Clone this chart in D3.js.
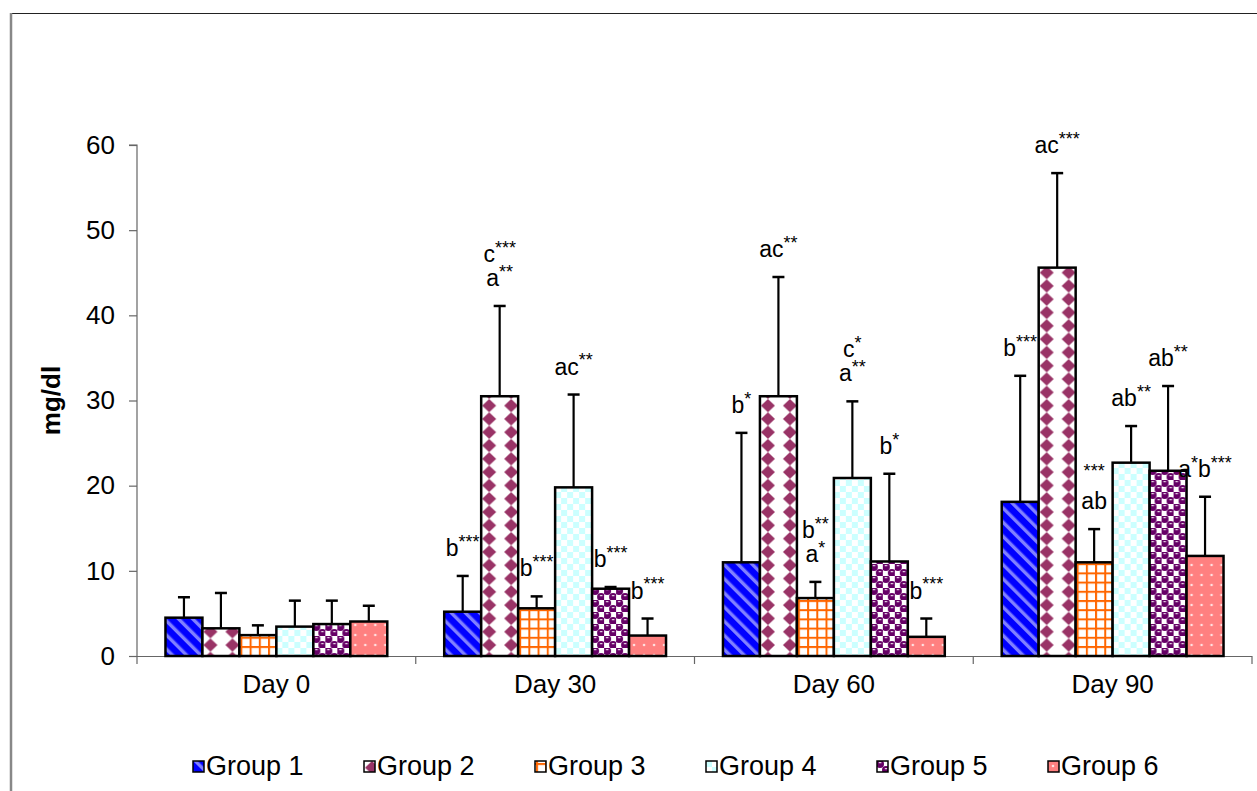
<!DOCTYPE html>
<html>
<head>
<meta charset="utf-8">
<style>
  body { margin: 0; background: #fff; }
  text { font-family: "Liberation Sans", Arial, sans-serif; fill: #000; }
</style>
</head>
<body>
<div id="chart"></div>
<script src="https://d3js.org/d3.v7.min.js"></script>
<script>
// days on the x axis, one bar per group in each day
var days = ["Day 0", "Day 30", "Day 60", "Day 90"];
var groups = ["Group 1", "Group 2", "Group 3", "Group 4", "Group 5", "Group 6"];

// mean values (mg/dl), one array per group, ordered as days
var g1Mean = [4.5, 5.2, 11.0, 18.1];
var g2Mean = [3.25, 30.5, 30.5, 45.6];
var g3Mean = [2.45, 5.6, 6.8, 11.0];
var g4Mean = [3.45, 19.8, 20.9, 22.7];
var g5Mean = [3.75, 7.9, 11.1, 21.75];
var g6Mean = [4.05, 2.4, 2.25, 11.75];

// upper error (SD)
var g1Err = [2.4, 4.2, 15.2, 14.8];
var g2Err = [4.15, 10.6, 14.0, 11.1];
var g3Err = [1.15, 1.4, 1.9, 3.9];
var g4Err = [3.05, 10.9, 9.0, 4.3];
var g5Err = [2.75, 0.2, 10.3, 9.95];
var g6Err = [1.85, 2.0, 2.15, 6.95];

// significance marks, "|" splits lines, asterisks are superscript
var g1Sig = ["", "b***", "b*", "b***"];
var g2Sig = ["", "c***|a**", "ac**", "ac***"];
var g3Sig = ["", "b***", "b**|a*", "***|ab"];
var g4Sig = ["", "ac**", "c*|a**", "ab**"];
var g5Sig = ["", "b***", "b*", "ab**"];
var g6Sig = ["", "b***", "b***", "a*b***"];

var yTicks = [0, 10, 20, 30, 40, 50, 60];

var means = [g1Mean, g2Mean, g3Mean, g4Mean, g5Mean, g6Mean];
var errs = [g1Err, g2Err, g3Err, g4Err, g5Err, g6Err];
var sigs = [g1Sig, g2Sig, g3Sig, g4Sig, g5Sig, g6Sig];

var W = 1257, H = 791;
var plotL = 137, plotR = 1252, plotT = 145, plotB = 656;

var svg = d3.select("#chart").append("svg").attr("width", W).attr("height", H);
svg.append("rect").attr("width", W).attr("height", H).attr("fill", "#fff");

// outer frame (runs off right/bottom)
svg.append("line").attr("x1", 11).attr("x2", W).attr("y1", 13.5).attr("y2", 13.5)
  .attr("stroke", "#222").attr("stroke-width", 1);
svg.append("line").attr("x1", 11).attr("x2", 11).attr("y1", 13).attr("y2", H)
  .attr("stroke", "#888").attr("stroke-width", 2.5);

// fill patterns
var defs = svg.append("defs");
var p;
// group 1: blue with light diagonal stripes
p = defs.append("pattern").attr("id", "pat0").attr("patternUnits", "userSpaceOnUse")
  .attr("width", 10).attr("height", 10).attr("patternTransform", "rotate(-45)");
p.append("rect").attr("width", 10).attr("height", 10).attr("fill", "#0000ff");
p.append("rect").attr("width", 3.4).attr("height", 10).attr("fill", "#8080ff");
// group 2: maroon diamonds on white
p = defs.append("pattern").attr("id", "pat1").attr("patternUnits", "userSpaceOnUse")
  .attr("width", 22).attr("height", 13.3).attr("x", -3);
p.append("rect").attr("width", 22).attr("height", 13.3).attr("fill", "#fff");
p.append("path").attr("d", "M11,0 L18,6.65 L11,13.3 L4,6.65 Z").attr("fill", "#993366");
// group 3: orange grid on white
p = defs.append("pattern").attr("id", "pat2").attr("patternUnits", "userSpaceOnUse")
  .attr("width", 9.2).attr("height", 9.2).attr("x", 1).attr("y", 2);
p.append("rect").attr("width", 9.2).attr("height", 9.2).attr("fill", "#fff");
p.append("rect").attr("width", 2).attr("height", 9.2).attr("fill", "#ff6600");
p.append("rect").attr("width", 9.2).attr("height", 2).attr("fill", "#ff6600");
// group 4: light cyan checker
p = defs.append("pattern").attr("id", "pat3").attr("patternUnits", "userSpaceOnUse")
  .attr("width", 12).attr("height", 12);
p.append("rect").attr("width", 12).attr("height", 12).attr("fill", "#fff");
p.append("rect").attr("width", 6).attr("height", 6).attr("fill", "#ccffff");
p.append("rect").attr("x", 6).attr("y", 6).attr("width", 6).attr("height", 6).attr("fill", "#ccffff");
// group 5: purple spheres
p = defs.append("pattern").attr("id", "pat4").attr("patternUnits", "userSpaceOnUse")
  .attr("width", 12).attr("height", 12);
p.append("rect").attr("width", 12).attr("height", 12).attr("fill", "#fff");
p.append("circle").attr("cx", 3).attr("cy", 3).attr("r", 4).attr("fill", "#660066");
p.append("circle").attr("cx", 9).attr("cy", 9).attr("r", 4).attr("fill", "#660066");
p.append("rect").attr("x", 1.8).attr("y", 1.2).attr("width", 2.6).attr("height", 1).attr("fill", "#fff");
p.append("rect").attr("x", 7.8).attr("y", 7.2).attr("width", 2.6).attr("height", 1).attr("fill", "#fff");
// group 6: salmon with white dots
p = defs.append("pattern").attr("id", "pat5").attr("patternUnits", "userSpaceOnUse")
  .attr("width", 10).attr("height", 10);
p.append("rect").attr("width", 10).attr("height", 10).attr("fill", "#ff8080");
p.append("circle").attr("cx", 5).attr("cy", 5).attr("r", 1.3).attr("fill", "#ffe0e0");

var x0 = d3.scaleBand().domain(days).range([plotL, plotR]).paddingInner(0).paddingOuter(0);
var x1 = d3.scaleBand().domain(groups).range([0, x0.bandwidth()]).paddingOuter(0.77).paddingInner(0);
var y = d3.scaleLinear().domain([0, 60]).range([plotB, plotT]);

// y axis
var yAxis = svg.append("g").attr("transform", "translate(" + plotL + ",0)")
  .call(d3.axisLeft(y).tickValues(yTicks).tickSize(8).tickPadding(14));
yAxis.select(".domain").attr("stroke", "#666").attr("stroke-width", 1.2).attr("d", "M-8," + y(60) + "H0V" + (plotB + 8));
yAxis.selectAll(".tick line").attr("stroke", "#666").attr("stroke-width", 1.2);
yAxis.selectAll(".tick text").attr("font-size", 26).attr("font-family", "Liberation Sans, Arial, sans-serif");

// x axis: ticks on category boundaries
var xAxis = svg.append("g");
xAxis.append("line").attr("x1", plotL).attr("x2", plotR).attr("y1", plotB + 0.5).attr("y2", plotB + 0.5)
  .attr("stroke", "#666").attr("stroke-width", 1.2);
xAxis.selectAll(".bt").data(days).enter().append("line")
  .attr("x1", function(d) { return x0(d) + x0.bandwidth(); })
  .attr("x2", function(d) { return x0(d) + x0.bandwidth(); })
  .attr("y1", plotB).attr("y2", plotB + 8)
  .attr("stroke", "#666").attr("stroke-width", 1.2);
xAxis.selectAll(".cl").data(days).enter().append("text")
  .attr("x", function(d) { return x0(d) + x0.bandwidth() / 2; })
  .attr("y", plotB + 37)
  .attr("text-anchor", "middle").attr("font-size", 26)
  .text(function(d) { return d; });

svg.append("text")
  .attr("transform", "translate(60," + ((plotT + plotB) / 2) + ") rotate(-90)")
  .attr("text-anchor", "middle").attr("font-size", 26).attr("font-weight", "bold")
  .text("mg/dl");

// bars
var rows = [];
days.forEach(function(day, di) {
  groups.forEach(function(gr, gi) {
    rows.push({ day: day, gi: gi, group: gr, mean: means[gi][di], err: errs[gi][di], sig: sigs[gi][di] });
  });
});

var bw = x1.bandwidth();
var bar = svg.selectAll(".bar").data(rows).enter().append("g")
  .attr("class", "bar")
  .attr("transform", function(d) { return "translate(" + (x0(d.day) + x1(d.group)) + ",0)"; });

bar.append("line")
  .attr("x1", bw / 2).attr("x2", bw / 2)
  .attr("y1", function(d) { return y(d.mean); })
  .attr("y2", function(d) { return y(d.mean + d.err); })
  .attr("stroke", "#000").attr("stroke-width", 2.2);
bar.append("line")
  .attr("x1", bw / 2 - 6).attr("x2", bw / 2 + 6)
  .attr("y1", function(d) { return y(d.mean + d.err); })
  .attr("y2", function(d) { return y(d.mean + d.err); })
  .attr("stroke", "#000").attr("stroke-width", 2.5);

bar.append("rect")
  .attr("x", 0).attr("width", bw)
  .attr("y", function(d) { return y(d.mean); })
  .attr("height", function(d) { return y(0) - y(d.mean); })
  .attr("fill", function(d) { return "url(#pat" + d.gi + ")"; })
  .attr("stroke", "#000").attr("stroke-width", 2.5);

// significance labels
var starSize = 18;
function writeMarks(sel, str) {
  var parts = str.match(/\*+|[^*]+/g) || [];
  var raised = false;
  parts.forEach(function(s) {
    var isStar = s.charAt(0) === "*";
    var t = sel.append("tspan").text(s);
    if (isStar) {
      t.attr("font-size", starSize);
      if (!raised) { t.attr("dy", -starSize * 0.45 + "px"); raised = true; }
    } else if (raised) {
      t.attr("dy", starSize * 0.45 + "px"); raised = false;
    }
  });
}

bar.filter(function(d) { return d.sig; }).each(function(d) {
  var lines = d.sig.split("|");
  var yb = y(d.mean + d.err) - 20;
  var g = d3.select(this);
  lines.forEach(function(ln, li) {
    var t = g.append("text")
      .attr("x", bw / 2)
      .attr("y", yb - (lines.length - 1 - li) * 24)
      .attr("text-anchor", "middle").attr("font-size", 23);
    writeMarks(t, ln);
  });
});

// legend
var leg = svg.selectAll(".leg").data(groups).enter().append("g")
  .attr("transform", function(d, i) { return "translate(" + (193 + i * 171) + ",761)"; });
leg.append("rect").attr("width", 11).attr("height", 11)
  .attr("fill", function(d, i) { return "url(#pat" + i + ")"; })
  .attr("stroke", "#000").attr("stroke-width", 1.5);
leg.append("text").attr("x", 13).attr("y", 14).attr("font-size", 27).text(function(d) { return d; });
</script>
</body>
</html>
